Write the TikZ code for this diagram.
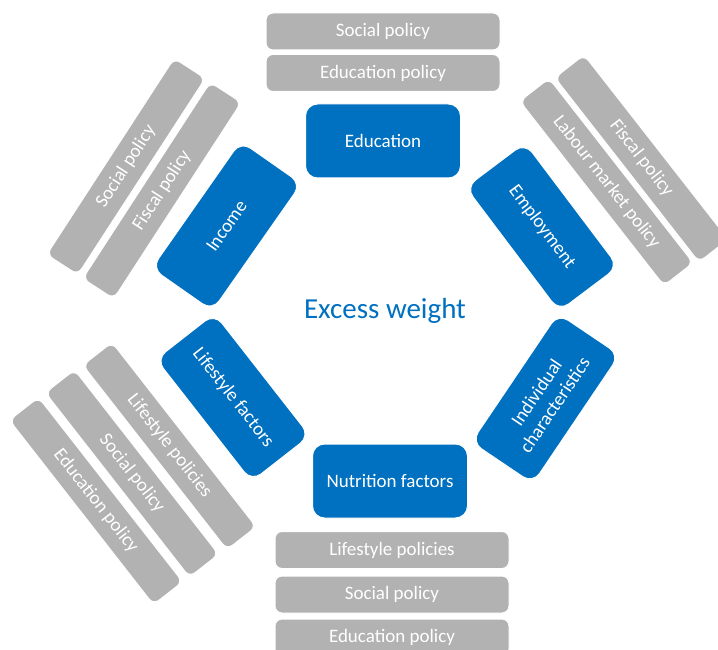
\documentclass[tikz,border=0pt]{standalone}
\usepackage{fontspec}
\setmainfont{Carlito}
\definecolor{factorblue}{HTML}{0070C0}
\definecolor{policygray}{HTML}{B2B2B2}
\begin{document}
\begin{tikzpicture}[x=1pt,y=-1pt,
  factor/.style={rectangle, fill=factorblue, draw=white, line width=1pt,
    rounded corners=12pt, minimum width=155pt, minimum height=74pt,
    inner sep=0pt, text=white, align=center,
    font=\fontsize{19}{22}\selectfont},
  policy/.style={rectangle, fill=policygray, draw=white, line width=1pt,
    rounded corners=7pt, minimum width=234pt, minimum height=37pt,
    inner sep=0pt, text=white, font=\fontsize{19}{22}\selectfont}]
\clip (0,0) rectangle (718,650);

% central outcome
\node[text=factorblue, font=\fontsize{29}{34}\selectfont] (excess) at (385,311) {Excess weight};

% determinants arranged around the outcome
\node[factor] (edu) at (383,141) {Education};
\node[factor] (nut) at (390,481) {Nutrition factors};
\node[factor, rotate=55] (inc) at (226.5,226) {Income};
\node[factor, rotate=-53] (emp) at (542,227) {Employment};
\node[factor, rotate=56] (ind) at (545.5,398.5) {Individual\\characteristics};
\node[factor, rotate=-52] (lif) at (233,397.5) {Lifestyle factors};

% policies acting on education
\node[policy] (eduSoc) at (383,31.5) {Social policy};
\node[policy] (eduEdu) at (383,73) {Education policy};

% policies acting on nutrition
\node[policy] (nutLif) at (392,550) {Lifestyle policies};
\node[policy] (nutSoc) at (392,594.5) {Social policy};
\node[policy] (nutEdu) at (392,637.5) {Education policy};

% policies acting on income
\node[policy, rotate=57] (incSoc) at (126,166.5) {Social policy};
\node[policy, rotate=57] (incFis) at (162,190.5) {Fiscal policy};

% policies acting on employment
\node[policy, rotate=-52] (empLab) at (606.5,182) {Labour market policy};
\node[policy, rotate=-52] (empFis) at (641.5,158.5) {Fiscal policy};

% policies acting on lifestyle
\node[policy, rotate=-52] (lifLif) at (169.5,446) {Lifestyle policies};
\node[policy, rotate=-52] (lifSoc) at (132,473.5) {Social policy};
\node[policy, rotate=-52] (lifEdu) at (96,501) {Education policy};
\end{tikzpicture}
\end{document}
